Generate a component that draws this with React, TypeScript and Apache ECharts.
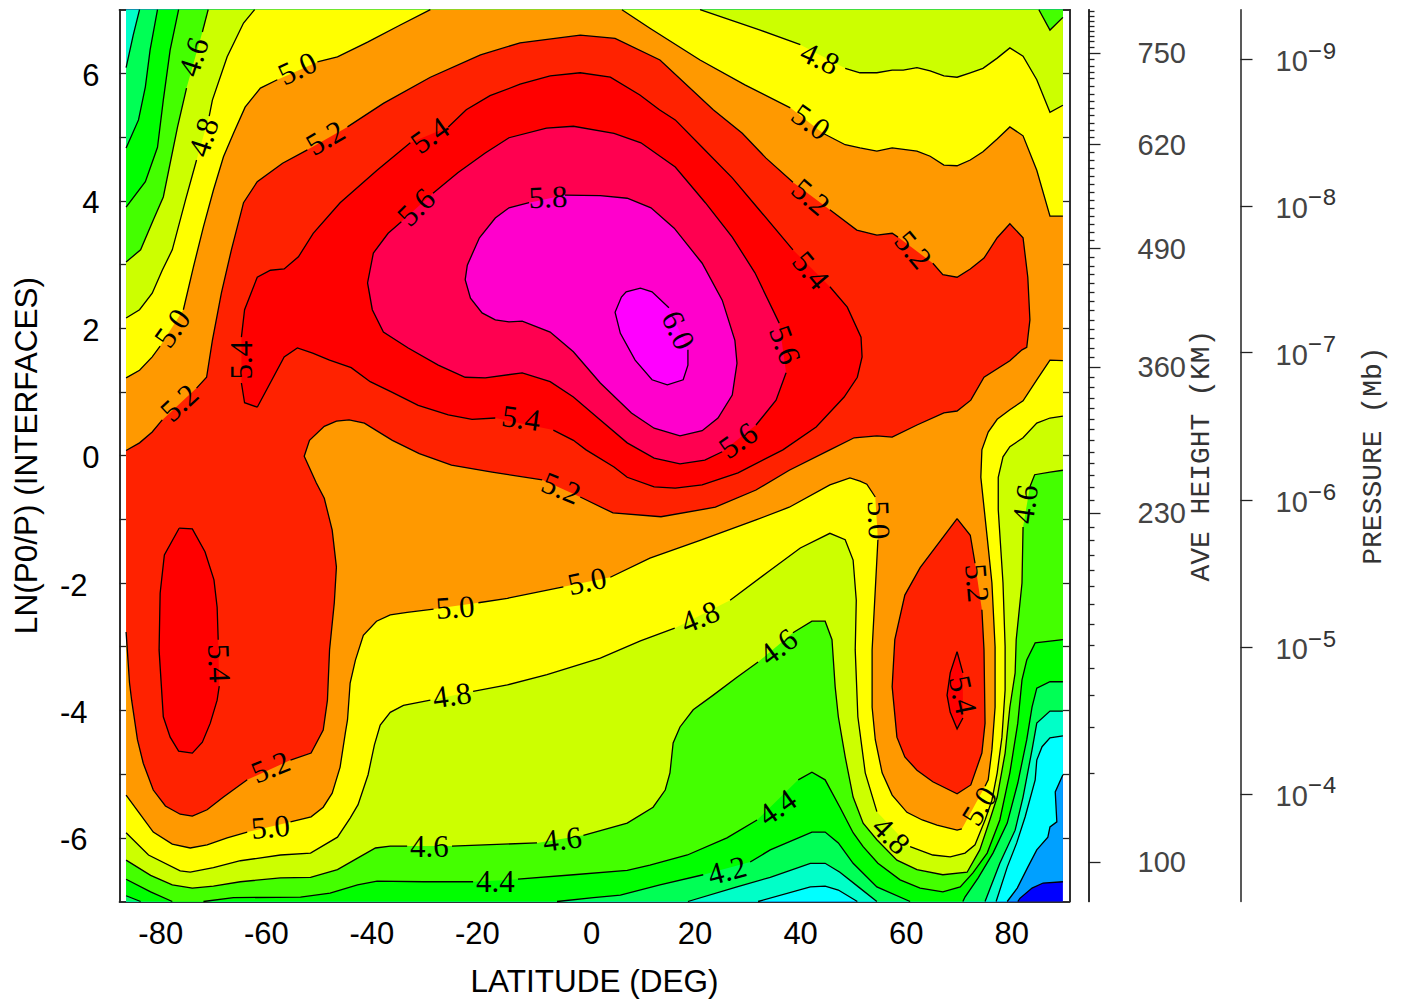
import React, { useEffect, useRef } from "react";
import * as echarts from "echarts";

type Pt = [number, number] | null;

const LAT_EDGE = 88.75;
const Z_EDGE = 7;
const TL: Pt = [-LAT_EDGE, Z_EDGE];
const TR: Pt = [LAT_EDGE, Z_EDGE];
const BL: Pt = [-LAT_EDGE, -Z_EDGE];
const BR: Pt = [LAT_EDGE, -Z_EDGE];

// Contour lines [latitude, ln(p0/p)], null = gap for a contour label
const c34: Pt[] = [[88.75,-6.69],[85,-6.71],[82.9,-6.79],[80.6,-6.95],[80.2,-7]];
const c36: Pt[] = [[88.75,-5.01],[87.3,-5.28],[87.6,-5.75],[86.3,-5.83],[85.9,-5.99],[83.8,-6.19],[82.1,-6.46],[80.1,-6.79],[78.2,-7]];
const c38Right: Pt[] = [[88.75,-4.4],[86.3,-4.43],[84.8,-4.57],[83.8,-4.78],[83.5,-5.09],[81.6,-5.67],[80,-6.08],[78.2,-6.46],[76.1,-7]];
const c38Low: Pt[] = [[49.8,-7],[46.2,-6.82],[43.7,-6.76],[40.9,-6.77],[31,-7]];
const c40Left: Pt[] = [[-88.75,6.09],[-87.4,6.6],[-86.2,7]];
const c40Right: Pt[] = [[88.75,-4.01],[86.3,-4.01],[83.8,-4.2],[82.9,-4.62],[81.2,-5.36],[79.7,-5.88],[76.8,-6.4],[74,-7]];
const c40Low: Pt[] = [[53.5,-7],[50.3,-6.79],[46.5,-6.54],[43.7,-6.4],[40.9,-6.4],[33.3,-6.62],[27,-6.77],[17.7,-7]];
const c42Left: Pt[] = [[-88.75,4.83],[-86.4,5.27],[-85.1,5.79],[-84.2,6.37],[-82.8,7]];
const c42Right: Pt[] = [[88.75,-3.55],[86.3,-3.55],[83.8,-3.65],[82.9,-3.95],[81.9,-4.46],[80.2,-5.14],[78.2,-5.77],[75.5,-6.24],[72.7,-6.63],[70.2,-6.93],[69.8,-7]];
const c42Low: Pt[] = [[59.8,-7],[53.5,-6.77],[49,-6.4],[46.2,-6.08],[43.7,-5.91],[41.2,-5.91],[33.3,-6.19],[29.5,-6.38],null,[20.6,-6.58],[12.4,-6.74],[4.9,-6.9],[-0.2,-6.94],[-7.1,-7]];
const c42Corner: Pt[] = [[-86,-7],[-88.75,-6.91]];
const c44Left: Pt[] = [[-88.75,3.9],[-85.1,4.3],[-82.8,4.84],[-81.7,5.58],[-80.4,6.37],[-78.8,7]];
const c44Low: Pt[] = [[88.75,-2.89],[83.5,-2.94],[81.9,-3.21],[81,-3.52],[80.2,-4.2],[78.7,-4.98],[76.8,-5.72],[74.4,-6.24],[71.7,-6.55],[69.3,-6.77],[66,-6.85],[61.7,-6.79],[57.9,-6.66],[53.7,-6.4],[50.9,-6.14],[49,-5.92],[46.5,-5.52],[43.7,-5.09],[41.2,-4.97],[38.6,-5.09],null,[30.8,-5.72],[25.1,-6],[17.6,-6.27],[10.5,-6.43],[6.2,-6.51],[-4,-6.58],[-14.5,-6.65],null,[-23,-6.69],[-32.4,-6.69],[-41.2,-6.68],[-44.9,-6.74],[-50.1,-6.87],[-55.7,-6.93],[-68.4,-6.94],[-74.1,-7],null,[-80,-7],[-84.1,-6.85],[-88.75,-6.65]];
const c46Left: Pt[] = [[-88.75,3.04],[-86,3.23],[-83.6,3.7],[-81.7,4.06],[-79,5.16],[-77.3,5.77],null,[-74.3,6.65],[-73.2,7]];
const c46Corner: Pt[] = [[84.2,7],[86.3,6.68],[88.75,6.88]];
const c46Low: Pt[] = [[88.75,-0.23],[86.3,-0.26],[83.4,-0.3],[82.5,-0.49],null,[81.2,-1.12],[81,-2],[79.9,-2.89],[79.7,-3.41],[78.7,-3.95],[77.8,-4.67],[76.3,-5.36],[74.9,-5.72],[73,-6.19],[70.6,-6.54],[66,-6.58],[61.1,-6.5],[57.3,-6.35],[53.5,-6.03],[50.9,-5.77],[49,-5.36],[47.5,-4.73],[46.2,-4.1],[45.6,-3.63],[45,-2.89],[43.7,-2.6],[41.2,-2.6],[37.6,-2.78],null,[31,-3.24],[27,-3.48],[22.5,-3.76],[18.7,-3.99],[16.2,-4.26],[14.9,-4.51],[14.3,-4.98],[13.4,-5.25],[11.1,-5.52],[6.2,-5.77],[-2.1,-5.96],null,[-10.9,-6.08],[-27,-6.13],null,[-35.5,-6.13],[-38.7,-6.13],[-41.5,-6.16],[-44.9,-6.32],[-48.7,-6.5],[-53.8,-6.62],[-59.5,-6.63],[-67.1,-6.69],[-72.2,-6.76],[-76.2,-6.79],[-80,-6.74],[-84.1,-6.59],[-88.75,-6.35]];
const c48Left: Pt[] = [[-88.75,2.16],[-86.2,2.29],[-83.8,2.55],[-81.9,2.91],[-80,3.23],[-77.5,4.01],[-75.4,4.64],null,[-73,5.33],[-72.4,5.58],[-69.6,6.26],[-66.5,6.79],[-64.4,7]];
const c48Right: Pt[] = [[20,7],[31.4,6.68],[39,6.45],null,[47.5,6.08],[50.3,6.01],[53.5,6.01],[56.4,6.05],[58.5,6.05],[61.1,6.09],[63.6,6.04],[66.2,5.96],[68.7,5.94],[71.2,6.01],[73.6,6.08],[76.3,6.24],[78.7,6.4],[81.2,6.27],[83.8,5.9],[86.3,5.39],[88.75,5.5]];
const c48Low: Pt[] = [[88.75,0.62],[86.3,0.59],[83.8,0.51],[81.2,0.28],[78.7,0.14],[77.4,-0.02],[76.5,-0.34],[76.5,-0.85],[77.4,-2],[77.8,-3],[77.8,-3.68],[77.2,-4.42],[76.3,-4.98],[75.3,-5.41],[74,-5.72],[72.1,-6.11],[70.2,-6.24],[67.4,-6.3],[64.1,-6.27],[59.8,-6.14],null,[53.5,-5.59],[51.3,-4.98],[49.9,-4.1],[49.4,-3.05],[49.6,-2.27],[49,-1.64],[47.5,-1.32],[44.6,-1.22],[39,-1.45],[33.3,-1.8],[25.7,-2.27],null,[15.2,-2.71],[8.7,-2.91],[1.1,-3.18],[-9,-3.44],[-16.5,-3.6],[-23,-3.7],null,[-31.1,-3.84],[-36.2,-3.92],[-38.7,-4.03],[-40.6,-4.23],[-41.7,-4.54],[-42.9,-5.01],[-44.8,-5.48],[-46.3,-5.69],[-48.7,-5.99],[-53.8,-6.24],[-59.5,-6.27],[-67.1,-6.36],[-72.2,-6.47],[-76.6,-6.54],[-78.5,-6.52],[-84.5,-6.27],[-88.75,-5.92]];
const c50Left: Pt[] = [[-88.75,1.22],[-86.2,1.34],[-83.8,1.55],[-82.3,1.72],null,[-77.9,2.29],[-76,2.96],[-74.1,3.59],[-72.2,4.17],[-70.3,4.69],[-68.4,5.06],[-66.2,5.47],[-63.3,5.77],[-60.1,5.9],null,[-52.5,6.18],[-48.7,6.26],[-43,6.49],[-36.8,6.76],[-31.1,7]];
const c50Right: Pt[] = [[5.2,7],[10.5,6.71],[20,6.21],[28.5,5.82],[37.1,5.46],null,[43.3,5.06],[47.5,4.88],[50.3,4.83],[53.5,4.78],[56.4,4.83],[61.1,4.78],[63.6,4.7],[66.2,4.56],[68.7,4.55],[71.2,4.64],[73.6,4.77],[76.3,4.97],[78.7,5.16],[81.2,5.02],[83.8,4.48],[86.3,3.76],[88.75,3.76]];
const c50Low: Pt[] = [[88.75,1.49],[86.3,1.5],[83.8,1.19],[81.2,0.86],[78.7,0.72],[76.3,0.57],[74.6,0.37],[73.4,0.09],[73.2,-0.34],[74.4,-1.28],[75.3,-2],[75.9,-3],[75.9,-3.95],[75.3,-4.62],[74.6,-5.09],[74,-5.19],null,[69.6,-5.86],[68.7,-5.88],[64.9,-5.8],[62.1,-5.72],[59.2,-5.6],[56.4,-5.33],[54.5,-4.98],[53.2,-4.46],[52.6,-3.95],[52.6,-3.05],[53.7,-1.32],null,[53.2,-0.65],[51.6,-0.45],[50.3,-0.4],[48.4,-0.35],[44.6,-0.46],[36.9,-0.81],[30.6,-1.01],[20,-1.33],[10.5,-1.61],[3,-1.91],null,[-5.9,-2.06],[-16.5,-2.24],[-22,-2.31],null,[-30.5,-2.41],[-35.5,-2.46],[-38.7,-2.5],[-41.3,-2.6],[-43.8,-2.82],[-45.3,-3.21],[-46.3,-3.57],[-46.8,-4.15],[-47.2,-4.35],[-48.2,-4.89],[-49.7,-5.3],[-51.4,-5.52],[-53.7,-5.67],[-57.6,-5.75],null,[-65.8,-5.91],[-69.6,-6],[-73.4,-6.11],[-76.6,-6.16],[-80,-6.1],[-83.6,-5.91],[-86,-5.64],[-88.75,-5.33]];
const c52Main: Pt[] = [[-88.75,0.08],[-86.2,0.2],[-83.8,0.37],[-81.9,0.56],null,[-75.4,1.06],[-73.5,1.23],[-72.4,1.81],[-70.7,2.55],[-68.8,3.23],[-66.5,3.97],[-63.9,4.3],[-59.1,4.59],[-54.4,4.8],null,[-46.8,5.16],[-40,5.53],[-31.1,5.94],[-21.6,6.29],[-14.1,6.48],[-2.7,6.6],[3.9,6.55],[12.4,6.21],[22.5,5.43],[28,5.06],[32.5,4.67],[37.6,4.29],null,[44.6,3.86],[49.7,3.54],[53.5,3.46],[56.4,3.49],[57.5,3.43],null,[64.1,3.02],[66,2.84],[68.7,2.8],[71.2,2.93],[73.8,3.1],[76.3,3.42],[78.7,3.64],[81.2,3.42],[82.1,2.8],[82.5,2.13],[81.9,1.7],[81,1.66],[78.7,1.49],[73.8,1.23],[71.3,0.87],[68.7,0.7],[66.2,0.67],[61.1,0.48],[56.4,0.29],[53.5,0.31],[49.2,0.28],[44.6,0.09],[36.9,-0.23],[30.6,-0.54],[22.9,-0.81],[12.6,-0.96],[3.5,-0.9],[-2.7,-0.65],null,[-9.9,-0.38],[-19.4,-0.26],[-27.1,-0.15],[-33.2,0.03],[-38.3,0.24],[-43.6,0.51],[-46.5,0.56],[-48.9,0.54],[-51.2,0.46],[-54,0.24],[-55,-0.01],[-52.7,-0.43],[-51.2,-0.67],[-49.7,-1.17],[-48.9,-1.75],[-49.3,-2.31],[-50.2,-3.05],[-50.6,-3.84],[-51.4,-4.31],[-53.7,-4.67],[-57.6,-4.78],null,[-65.8,-5.09],[-70.3,-5.36],[-73.4,-5.56],[-76.2,-5.66],[-78.5,-5.63],[-81.3,-5.5],[-83.6,-5.25],[-85.5,-4.83],[-86.6,-4.46],[-87.7,-3.84],[-88.1,-3.57],[-88.75,-2.77]];
const c52Blob: Pt[] = [[68.7,-0.99],[71.2,-1.25],[72.1,-1.69],null,[73.4,-2.42],[73.8,-3.05],[74,-4.2],[73.4,-4.67],[71.3,-5.17],[68.7,-5.31],[64.1,-5.12],[61.1,-4.94],[58.8,-4.73],[57.3,-4.42],[56.4,-3.63],[56.9,-2.89],[58.8,-2.19],[61.7,-1.76],[68.7,-0.99]];
const c54Main: Pt[] = [[-63.9,0.76],[-66.3,0.83],[-66.9,1.14],null,[-66.9,1.86],[-66.3,2.29],[-63.9,2.8],[-61.4,2.91],[-58.8,2.93],[-56.1,3.12],[-53.3,3.49],[-48.2,3.97],[-41.2,4.48],[-34.9,4.91],null,[-27.7,5.16],[-24.3,5.43],[-19.8,5.65],[-14.1,5.83],[-8.4,5.96],[-2.7,6.01],[3,5.94],[8.6,5.66],[12.3,5.43],[15.3,5.27],[20.4,4.84],[26.1,4.36],[31.2,3.86],[37.6,3.23],null,[44.6,2.65],[47.9,2.33],[50.5,1.86],[50.7,1.55],[49.8,1.23],[47.3,0.92],[42,0.45],[35.7,0.09],[27.2,-0.27],[20.4,-0.46],[15.3,-0.51],[11.3,-0.49],[6.2,-0.34],[3.7,-0.18],[-1.6,0.09],[-4,0.24],[-7.8,0.4],null,[-18.8,0.59],[-23.2,0.57],[-27.7,0.64],[-33.4,0.79],[-38.5,1],[-42.5,1.16],[-46.1,1.38],[-50.2,1.5],[-53.4,1.61],[-56.3,1.69],[-58.8,1.55],[-63.9,0.76]];
const c54LeftBlob: Pt[] = [[-78.7,-1.14],[-76.2,-1.15],[-73.8,-1.51],[-72.1,-1.95],[-71.5,-2.38],[-71.3,-2.89],null,[-71.1,-3.62],[-71.5,-3.84],[-72.8,-4.2],[-74.3,-4.5],[-76.2,-4.67],[-78.8,-4.64],[-80.4,-4.42],[-81.7,-4.1],[-82.5,-3.05],[-82.3,-2.16],[-81.5,-1.56],[-78.7,-1.14]];
const c54RightBlob: Pt[] = [[68.7,-3.08],[69.8,-3.41],null,[69.8,-4.12],[68.7,-4.29],[67.4,-4.03],[66.8,-3.76],[67.4,-3.41],[68.7,-3.08]];
const c56: Pt[] = [[-36.6,3.67],[-39.1,3.49],[-41.9,3.18],[-43,2.71],[-42.1,2.29],[-40,1.94],[-35.3,1.69],[-29.6,1.42],[-24.5,1.23],[-20.7,1.22],[-13.7,1.3],[-8.4,1.16],[-4,0.92],[1.1,0.56],[6.2,0.2],[11.3,-0.04],[16.2,-0.13],[20.9,-0.07],[24.2,0.06],null,[30.6,0.48],[34.4,0.87],[36.3,1.3],null,[35,2.08],[30.4,2.87],[26.1,3.43],[21,3.97],[15.3,4.53],[8.8,4.91],[3.7,5.06],[-4,5.17],[-9.1,5.14],[-16.2,4.99],[-20.7,4.75],[-25.9,4.44],[-30.6,4.12]];
const c58: Pt[] = [[-12.4,3.97],[-16.2,3.89],[-18.8,3.73],[-21.8,3.42],[-24.1,2.99],[-24.5,2.76],[-23.5,2.47],[-21.3,2.24],[-18.8,2.13],[-16.2,2.1],[-13.7,2.11],[-8.4,1.94],[-4,1.63],[1.1,1.14],[7,0.67],[11.3,0.43],[16.2,0.31],[20.4,0.39],[23.4,0.59],[26.1,0.95],[27,1.45],[26.6,1.81],[24.2,2.44],[20.4,3.02],[15.1,3.57],[10.7,3.89],[6.2,4.04],[1.1,4.08],[-5.6,4.09]];
const c60: Pt[] = [[17.7,1.66],[17.7,1.42],[16.8,1.19],[13.8,1.11],[10.9,1.19],[7.7,1.5],[4.9,1.92],[3.9,2.25],[5.1,2.49],[6,2.57],[8.7,2.63],[10.9,2.57],[14.1,2.32]];

// [text, latitude, ln(p0/p), rotation in degrees]
const contourLabels: [string, number, number, number][] = [
  ["4.6",-76,6.26,72],["4.8",-74.1,5,72],["5.0",-56.3,6.08,25],["5.2",-51,4.99,30],["5.4",-31.2,5.03,35],["5.6",-33.8,3.9,45],
  ["5.8",-8.8,4.06,2],["6.0",15.9,1.97,-65],["5.0",-80,2,55],["5.2",-78.7,0.83,43],["5.4",-66.9,1.5,90],["5.4",-13.9,0.59,-8],
  ["5.2",-6.3,-0.51,-22],["5.6",27.2,0.24,35],["5.6",36.1,1.74,-70],["5.4",41,2.91,-50],["5.2",41,4.06,-40],["5.0",41,5.24,-35],
  ["4.8",42.7,6.24,-25],["5.2",60.4,3.23,-50],["5.0",53.9,-1.01,-88],["5.2",72.5,-2,-85],["4.6",81.6,-0.76,82],["5.4",-71.1,-3.26,-88],
  ["5.4",69.8,-3.76,-78],["5.0",72.9,-5.5,58],["4.8",56.2,-5.96,-45],["5.2",-61.4,-4.89,22],["5.0",-61.4,-5.83,5],["5.0",-26.4,-2.38,4],
  ["5.0",-1.4,-1.97,12],["4.8",-27,-3.76,8],["4.8",20,-2.53,22],["4.6",34.8,-3,37],["4.6",-31.3,-6.14,0],["4.6",-6.1,-6.02,7],
  ["4.4",-18.8,-6.69,0],["4.4",34.6,-5.52,35],["4.2",25.1,-6.51,15],
];

const latMajor = [-80,-60,-40,-20,0,20,40,60,80];
const latMinor = [-70,-50,-30,-10,10,30,50,70];
const zMajor = [-6,-4,-2,0,2,4,6];
const zMinor = [-5,-3,-1,1,3,5];

const heightLabels = ["750","620","490","360","230","100"];
const heightMajorZ = [6.32,4.88,3.25,1.39,-0.9,-6.38];
const heightMinorZ = [6.98,6.9,6.82,6.74,6.66,6.58,6.5,6.41,6.22,6.12,6.02,5.92,5.8,5.68,5.57,5.45,5.34,5.22,5.11,5,4.76,4.63,4.51,4.38,4.26,4.13,4.01,3.88,3.76,3.63,3.5,3.38,3.11,2.98,2.84,2.7,2.56,2.43,2.28,2.13,1.99,1.84,1.69,1.54,1.23,1.07,0.9,0.74,0.57,0.41,0.24,0.06,-0.12,-0.31,-0.5,-0.7,-1.12,-1.33,-1.56,-1.8,-2.05,-2.34,-2.64,-2.97,-3.34,-3.77,-4.27,-4.98];
const pressureExponents = ["9","8","7","6","5","4"];
const pressureZ = [6.22,3.92,1.615,-0.7,-3.005,-5.31];

// Painted from the lowest level up: each entry is the region above a level
const bands: { color: string; regions: Pt[][] }[] = [
  { color: "#0000ff", regions: [[TL, TR, BR, BL]] },
  { color: "#00a0ff", regions: [[TL, TR, ...c34, BL]] },
  { color: "#00ffff", regions: [[TL, TR, ...c36, BL]] },
  { color: "#00ffc8", regions: [[TL, TR, ...c38Right, ...c38Low, BL]] },
  { color: "#00ff55", regions: [[...c40Left, TR, ...c40Right, ...c40Low, BL]] },
  { color: "#00ff00", regions: [[...c42Left, TR, ...c42Right, ...c42Low, ...c42Corner]] },
  { color: "#44ff00", regions: [[...c44Left, TR, ...c44Low]] },
  { color: "#ccff00", regions: [[...c46Left, ...c46Corner, ...c46Low]] },
  { color: "#ffff00", regions: [[...c48Left, ...c48Right, ...c48Low]] },
  { color: "#ff9900", regions: [[...c50Left, ...c50Right, ...c50Low]] },
  { color: "#ff2200", regions: [c52Main, c52Blob] },
  { color: "#ff0000", regions: [c54Main, c54LeftBlob, c54RightBlob] },
  { color: "#ff0050", regions: [c56] },
  { color: "#ff00cc", regions: [c58] },
  { color: "#ff00ff", regions: [c60] },
];

const contourLines: Pt[][] = [
  c34, c36, c38Right, c38Low, c40Left, c40Right, c40Low, c42Left, c42Right, c42Low, c42Corner, c44Left, c44Low,
  c46Left, c46Corner, c46Low, c48Left, c48Right, c48Low, c50Left, c50Right, c50Low, c52Main, c52Blob,
  c54Main, c54LeftBlob, c54RightBlob, c56, c58, c60,
];

const AXIS_COLOR = "#222";
const SANS = "Liberation Sans";
const MONO = "Liberation Mono";
const LONG = 14;
const SHORT = 9;

function tickAxis(position: string, values: number[], length: number, extra: any = {}) {
  const isX = position === "top" || position === "bottom";
  return {
    type: "value",
    position,
    min: isX ? -90 : -7,
    max: isX ? 90 : 7,
    scale: true,
    nameMoveOverlap: false,
    splitLine: { show: false },
    axisLine: { show: true, onZero: false, lineStyle: { color: AXIS_COLOR, width: 1.5 } },
    axisTick: { show: true, inside: true, length, customValues: values, lineStyle: { color: AXIS_COLOR, width: 1.3 } },
    axisLabel: { show: false },
    ...extra,
  };
}

export default function App() {
  const ref = useRef<HTMLDivElement>(null);
  useEffect(() => {
    const chart = echarts.init(ref.current!, undefined, { renderer: "svg" });
    const option: any = {
      animation: false,
      backgroundColor: "#fff",
      grid: { left: 119.5, right: 332.5, top: 9.7, bottom: 99.5, containLabel: false, outerBoundsMode: "none" },
      xAxis: [
        tickAxis("bottom", latMajor, LONG, {
          name: "LATITUDE (DEG)",
          nameLocation: "middle",
          nameGap: 63,
          nameTextStyle: { fontFamily: SANS, fontSize: 31.5, color: "#000" },
          axisLabel: {
            show: true,
            customValues: latMajor,
            margin: 16,
            formatter: (v: number) => (v < 0 ? `{n|${v}}` : v === 0 ? `{o|${v}}` : `{p|${v}}`),
            rich: {
              n: { fontFamily: SANS, fontSize: 31, color: "#000", padding: [0, 23, 0, 0] },
              o: { fontFamily: SANS, fontSize: 31, color: "#000", padding: [0, 6, 0, 0] },
              p: { fontFamily: SANS, fontSize: 31, color: "#000", padding: [0, 10, 0, 0] },
            },
          },
        }),
        tickAxis("bottom", latMinor, SHORT),
        tickAxis("top", latMajor, LONG),
        tickAxis("top", latMinor, SHORT),
      ],
      yAxis: [
        tickAxis("left", zMajor, LONG, {
          name: "LN(P0/P) (INTERFACES)",
          nameLocation: "middle",
          nameGap: 78,
          nameTextStyle: { fontFamily: SANS, fontSize: 31.5, color: "#000" },
          axisLabel: {
            show: true,
            customValues: zMajor,
            margin: 20,
            formatter: (v: number) => (v < 0 ? `{n|${v}}` : `{p|${v}}`),
            rich: {
              n: { fontFamily: SANS, fontSize: 31, color: "#000", padding: [4, 12, 0, 0] },
              p: { fontFamily: SANS, fontSize: 31, color: "#000", padding: [4, 0, 0, 0] },
            },
          },
        }),
        tickAxis("left", zMinor, SHORT),
        tickAxis("right", zMajor, LONG),
        tickAxis("right", zMinor, SHORT),
        tickAxis("right", heightMajorZ, 12, {
          offset: 19,
          axisTick: { show: true, inside: false, length: 12, customValues: heightMajorZ, lineStyle: { color: AXIS_COLOR, width: 1.3 } },
          name: "AVE HEIGHT (KM)",
          nameLocation: "middle",
          nameRotate: 90,
          nameGap: 99,
          nameTextStyle: { fontFamily: MONO, fontSize: 28, color: "#333" },
          axisLabel: {
            show: true,
            customValues: heightMajorZ,
            margin: 49,
            fontFamily: SANS,
            fontSize: 29,
            color: "#444",
            padding: [2, 0, 0, 0],
            formatter: (v: number) => heightLabels[heightMajorZ.indexOf(v)],
          },
        }),
        tickAxis("right", heightMinorZ, 6, {
          offset: 19,
          axisTick: { show: true, inside: false, length: 6, customValues: heightMinorZ, lineStyle: { color: AXIS_COLOR, width: 1.3 } },
        }),
        tickAxis("right", pressureZ, 12, {
          offset: 171,
          axisTick: { show: true, inside: false, length: 12, customValues: pressureZ, lineStyle: { color: AXIS_COLOR, width: 1.3 } },
          name: "PRESSURE (Mb)",
          nameLocation: "middle",
          nameRotate: 90,
          nameGap: 119,
          nameTextStyle: { fontFamily: MONO, fontSize: 28, color: "#333" },
          axisLabel: {
            show: true,
            customValues: pressureZ,
            margin: 35,
            padding: [4, 0, 0, 0],
            formatter: (v: number) => `{b|10}{s|\u2212${pressureExponents[pressureZ.indexOf(v)]}}`,
            rich: {
              b: { fontFamily: SANS, fontSize: 29, color: "#444" },
              s: { fontFamily: MONO, fontSize: 24, color: "#333", padding: [0, 0, 18, 0] },
            },
          },
        }),
      ],
      series: [
        {
          type: "custom",
          z: 1,
          silent: true,
          data: bands.map((_, i) => [i]),
          encode: { x: -1, y: -1 },
          renderItem: (_: any, api: any) => {
            const band = bands[api.value(0)];
            return {
              type: "group",
              children: band.regions.map((region) => ({
                type: "polygon",
                shape: { points: region.filter(Boolean).map((p) => api.coord(p)) },
                style: { fill: band.color, stroke: "none" },
              })),
            };
          },
        },
        {
          type: "custom",
          z: 2,
          silent: true,
          data: contourLines.map((_, i) => [i]),
          encode: { x: -1, y: -1 },
          renderItem: (_: any, api: any) => {
            const parts: number[][][] = [[]];
            contourLines[api.value(0)].forEach((p) => {
              if (p) parts[parts.length - 1].push(api.coord(p));
              else parts.push([]);
            });
            return {
              type: "group",
              children: parts.map((points) => ({
                type: "polyline",
                shape: { points },
                style: { fill: "none", stroke: "#000", lineWidth: 1.3 },
              })),
            };
          },
        },
        {
          type: "custom",
          z: 3,
          silent: true,
          data: contourLabels.map((_, i) => [i]),
          encode: { x: -1, y: -1 },
          renderItem: (_: any, api: any) => {
            const [text, lat, z, rot] = contourLabels[api.value(0)];
            const [x, y] = api.coord([lat, z]);
            return {
              type: "text",
              x,
              y,
              rotation: (rot * Math.PI) / 180,
              style: {
                text,
                fill: "#000",
                fontFamily: "Liberation Serif",
                fontSize: 31,
                align: "center",
                verticalAlign: "middle",
              },
            };
          },
        },
      ],
    };
    chart.setOption(option);
    return () => chart.dispose();
  }, []);
  return <div ref={ref} style={{ position: "fixed", left: 0, top: 0, width: 1402, height: 1001 }} />;
}
